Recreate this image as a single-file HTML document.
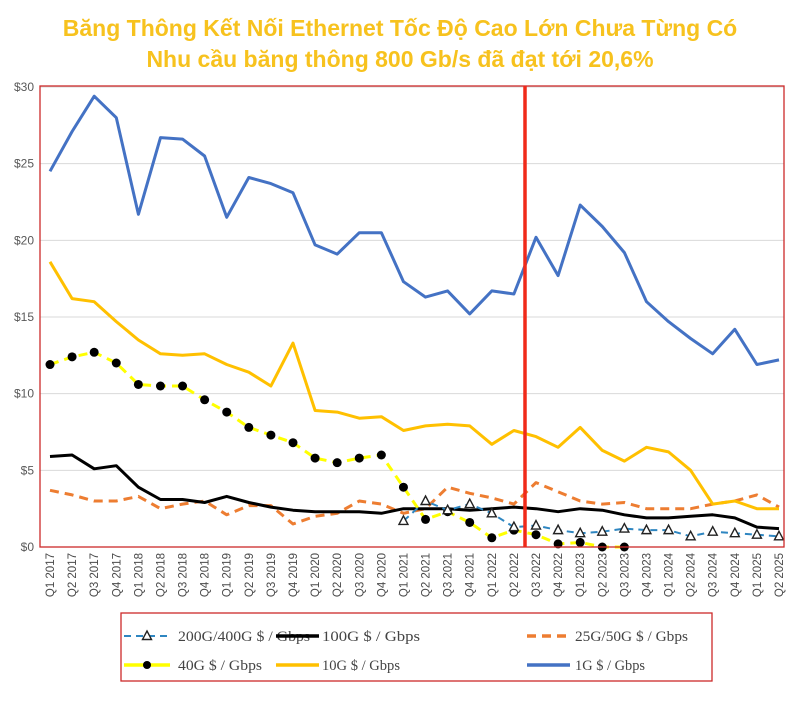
<!DOCTYPE html>
<html><head><meta charset="utf-8"><style>
body{margin:0;background:#fff;width:800px;height:697px;overflow:hidden;font-family:"Liberation Sans",sans-serif}
</style></head><body>
<svg id="chart" width="800" height="697" xmlns="http://www.w3.org/2000/svg">
<text x="400" y="36" text-anchor="middle" font-family="Liberation Sans, sans-serif" font-weight="bold" font-size="23" fill="#F7C21E">Băng Thông Kết Nối Ethernet Tốc Độ Cao Lớn Chưa Từng Có</text>
<text x="400" y="67" text-anchor="middle" font-family="Liberation Sans, sans-serif" font-weight="bold" font-size="23" fill="#F7C21E">Nhu cầu băng thông 800 Gb/s đã đạt tới 20,6%</text>
<g id="grid"></g><g id="axes"></g><g id="series"></g>
<rect x="40" y="86" width="744" height="461" fill="none" stroke="#cc2a2a" stroke-width="1.3"/>
<line x1="525" y1="86" x2="525" y2="547" stroke="#f02a1a" stroke-width="3.5"/>
<rect x="121" y="613" width="591" height="68" fill="none" stroke="#cc2a2a" stroke-width="1.3"/>
<g id="legend" font-family="Liberation Serif, serif" font-size="15" fill="#444"></g>
</svg>
<script>
const categories=["Q1 2017","Q2 2017","Q3 2017","Q4 2017","Q1 2018","Q2 2018","Q3 2018","Q4 2018","Q1 2019","Q2 2019","Q3 2019","Q4 2019","Q1 2020","Q2 2020","Q3 2020","Q4 2020","Q1 2021","Q2 2021","Q3 2021","Q4 2021","Q1 2022","Q2 2022","Q3 2022","Q4 2022","Q1 2023","Q2 2023","Q3 2023","Q4 2023","Q1 2024","Q2 2024","Q3 2024","Q4 2024","Q1 2025","Q2 2025"];
const yTicks=[0,5,10,15,20,25,30];
const yTickLabels=["$0","$5","$10","$15","$20","$25","$30"];
const s1G=[24.5,27.1,29.4,28,21.7,26.7,26.6,25.5,21.5,24.1,23.7,23.1,19.7,19.1,20.5,20.5,17.3,16.3,16.7,15.2,16.7,16.5,20.2,17.7,22.3,20.9,19.2,16,14.7,13.6,12.6,14.2,11.9,12.2];
const s10G=[18.6,16.2,16,14.7,13.5,12.6,12.5,12.6,11.9,11.4,10.5,13.3,8.9,8.8,8.4,8.5,7.6,7.9,8,7.9,6.7,7.6,7.2,6.5,7.8,6.3,5.6,6.5,6.2,5,2.8,3,2.5,2.5];
const s40G=[11.9,12.4,12.7,12,10.6,10.5,10.5,9.6,8.8,7.8,7.3,6.8,5.8,5.5,5.8,6,3.9,1.8,2.3,1.6,0.6,1.1,0.8,0.2,0.3,0,0];
const s100G=[5.9,6,5.1,5.3,3.9,3.1,3.1,2.9,3.3,2.9,2.6,2.4,2.3,2.3,2.3,2.2,2.5,2.5,2.5,2.4,2.5,2.6,2.5,2.3,2.5,2.4,2.1,1.9,1.9,2,2.1,1.9,1.3,1.2];
const s25G=[3.7,3.4,3,3,3.3,2.5,2.8,3,2.1,2.7,2.7,1.5,2,2.2,3,2.8,2.2,2.5,3.9,3.5,3.2,2.8,4.2,3.6,3,2.8,2.9,2.5,2.5,2.5,2.8,3,3.4,2.6];
const s200G=[null,null,null,null,null,null,null,null,null,null,null,null,null,null,null,null,1.7,3,2.4,2.8,2.2,1.3,1.4,1.1,0.9,1,1.2,1.1,1.1,0.7,1,0.9,0.8,0.7];
const NS="http://www.w3.org/2000/svg";
const x=i=>50+i*(729/(categories.length-1));
const y=v=>547-v*(460/30);
function mk(t,a,p){const e=document.createElementNS(NS,t);for(const k in a)e.setAttribute(k,a[k]);p.appendChild(e);return e;}
const grid=document.getElementById('grid'),axes=document.getElementById('axes'),ser=document.getElementById('series'),leg=document.getElementById('legend');
yTicks.forEach((v,i)=>{
 if(v>0){const l=mk('line',{x1:40,x2:784,y1:y(v),y2:y(v),stroke:'#d9d9d9','stroke-width':1},grid);
 
 }
 const t=mk('text',{x:34,y:y(v)+4,'text-anchor':'end','font-size':12,fill:'#595959'},axes);
 
 
 t.textContent=yTickLabels[i];
});
categories.forEach((c,i)=>{
 const t=mk('text',{x:0,y:0,'text-anchor':'end','font-size':11.5,fill:'#4a4a4a',transform:`translate(${x(i)+4},553) rotate(-90)`},axes);
 
 
 t.textContent=c;
});
function line(data,color,w,dash,name){
 let d='';let started=false;
 data.forEach((v,i)=>{if(v===null){started=false;return;}d+=(started?'L':'M')+x(i).toFixed(1)+','+y(v).toFixed(1);started=true;});
 const p=mk('path',{d:d,fill:'none',stroke:color,'stroke-width':w,'stroke-linejoin':'round'},ser);
 if(dash)p.setAttribute('stroke-dasharray',dash);
 
 
}
line(s25G,'#ED7D31',3,'9,6','line-25g-50g');
line(s100G,'#000',3,null,'line-100g');
line(s10G,'#FFC000',3,null,'line-10g');
line(s1G,'#4472C4',3,null,'line-1g');
line(s40G,'#FFFF00',3,'9,6','line-40g');
s40G.forEach((v,i)=>{const c=mk('circle',{cx:x(i),cy:y(v),r:4.5,fill:'#000'},ser);
 
 });
line(s200G,'#2E86C1',2,'7,5','line-200g-400g');
function tri(cx,cy,p){const t=mk('path',{d:`M${cx},${cy-5}L${cx+4.5},${cy+3.5}L${cx-4.5},${cy+3.5}Z`,fill:'#fff',stroke:'#222','stroke-width':1.4},p);return t;}
s200G.forEach((v,i)=>{if(v===null)return;const t=tri(x(i),y(v),ser);
 
 });
const legendItems=[
 {label:'200G/400G $ / Gbps',color:'#2E86C1',dash:'7,5',w:2,mark:'tri',lx:124,len:46,tx:178,tl:132,ty:641},
 {label:'100G $ / Gbps',color:'#000',dash:null,w:3.5,mark:null,lx:276,len:43,tx:322,tl:98,ty:641},
 {label:'25G/50G $ / Gbps',color:'#ED7D31',dash:'9,6',w:3.5,mark:null,lx:527,len:43,tx:575,tl:113,ty:641},
 {label:'40G $ / Gbps',color:'#FFFF00',dash:null,w:3.5,mark:'dot',lx:124,len:46,tx:178,tl:84,ty:670},
 {label:'10G $ / Gbps',color:'#FFC000',dash:null,w:3.5,mark:null,lx:276,len:43,tx:322,tl:78,ty:670},
 {label:'1G $ / Gbps',color:'#4472C4',dash:null,w:3.5,mark:null,lx:527,len:43,tx:575,tl:70,ty:670}];
legendItems.forEach(it=>{
 const g=mk('g',{},leg);
 
 
 const l=mk('line',{x1:it.lx,x2:it.lx+it.len,y1:it.ty-5,y2:it.ty-5,stroke:it.color,'stroke-width':it.w},g);
 if(it.dash)l.setAttribute('stroke-dasharray',it.dash);
 if(it.mark==='tri')tri(it.lx+23,it.ty-5,g);
 if(it.mark==='dot')mk('circle',{cx:it.lx+23,cy:it.ty-5,r:4,fill:'#000'},g);
 const t=mk('text',{x:it.tx,y:it.ty,textLength:it.tl,lengthAdjust:'spacingAndGlyphs'},g);t.textContent=it.label;
});
</script>
</body></html>
